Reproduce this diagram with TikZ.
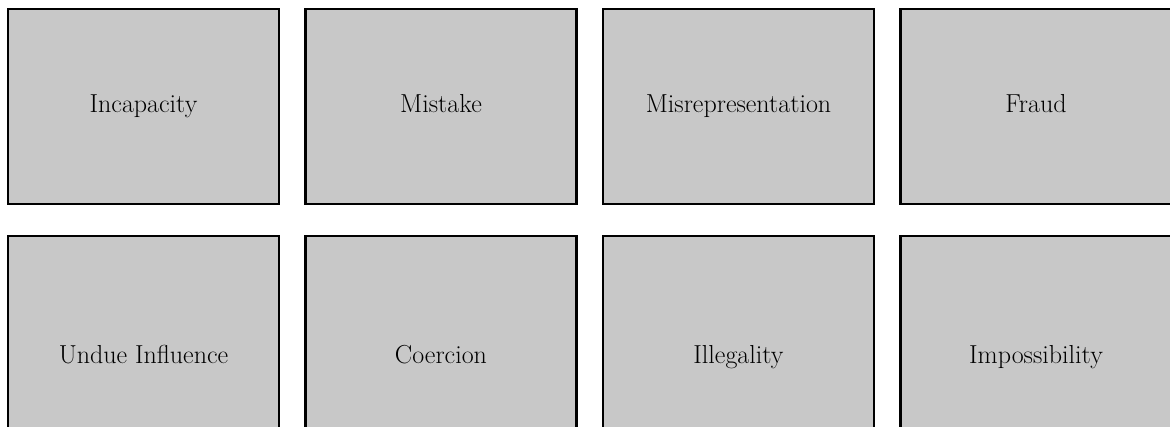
\documentclass[tikz,border=0pt]{standalone}
\usepackage{xcolor}
\usepackage{tikz}
\definecolor{boxgray}{HTML}{C8C8C8}

\tikzset{
  vitiator/.style={draw=black, line width=1.6pt, fill=boxgray, inner sep=0pt,
    minimum width=271*0.025cm, text height=2.3ex, text depth=.3ex,
    font=\fontsize{18.5}{22}\selectfont},
  toprow/.style={vitiator, minimum height=195*0.025cm},
  lowrow/.style={vitiator, minimum height=242*0.025cm}
}

\begin{document}
\begin{tikzpicture}[x=0.025cm, y=-0.025cm]
\clip (0,0) rectangle (1170,427);
\fill[white] (0,0) rectangle (1170,427);
% first row
\node[toprow] (incapacity) at (143.5,106.5) {Incapacity};
\node[toprow] (mistake) at (441,106.5) {Mistake};
\node[toprow] (misrep) at (738.5,106.5) {Misrepresentation};
\node[toprow] (fraud) at (1036,106.5) {Fraud};
% second row
\node[lowrow] (undue) at (143.5,357) {Undue Influence};
\node[lowrow] (coercion) at (441,357) {Coercion};
\node[lowrow] (illegality) at (738.5,357) {Illegality};
\node[lowrow] (impossibility) at (1036,357) {Impossibility};
\end{tikzpicture}
\end{document}
